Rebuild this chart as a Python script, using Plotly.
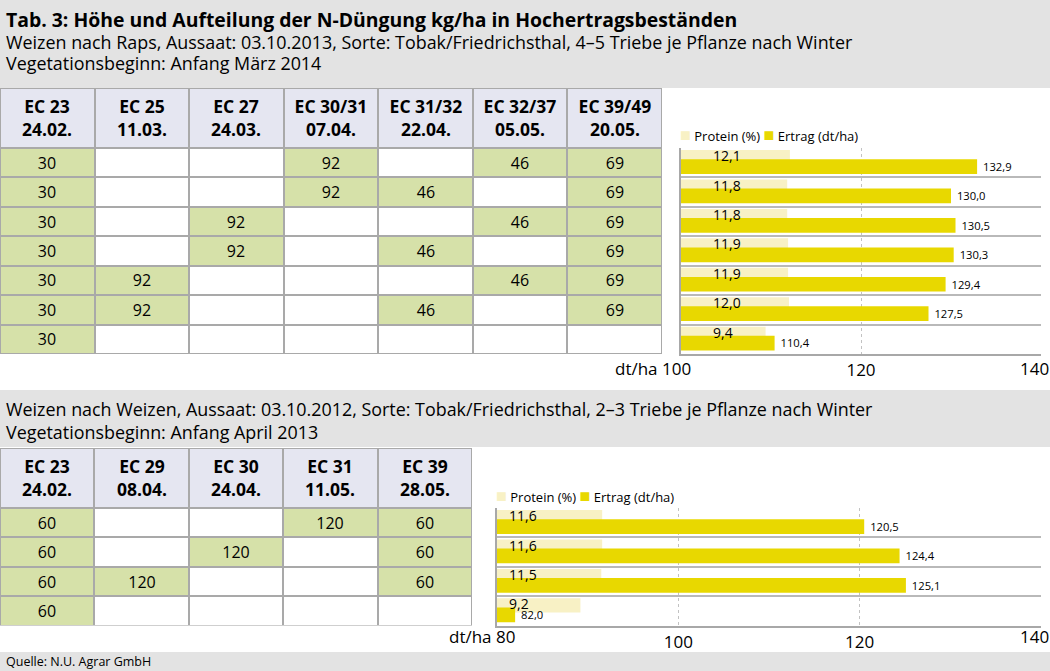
import plotly.graph_objects as go

W, H = 1050, 671

# ---------------- texts ----------------
title = "Tab. 3: Höhe und Aufteilung der N-Düngung kg/ha in Hochertragsbeständen"
top_sub1 = "Weizen nach Raps, Aussaat: 03.10.2013, Sorte: Tobak/Friedrichsthal, 4–5 Triebe je Pflanze nach Winter"
top_sub2 = "Vegetationsbeginn: Anfang März 2014"
bot_sub1 = "Weizen nach Weizen, Aussaat: 03.10.2012, Sorte: Tobak/Friedrichsthal, 2–3 Triebe je Pflanze nach Winter"
bot_sub2 = "Vegetationsbeginn: Anfang April 2013"
source = "Quelle: N.U. Agrar GmbH"
legend_names = ["Protein (%)", "Ertrag (dt/ha)"]
unit_label = "dt/ha"

# ---------------- data: top (Weizen nach Raps) ----------------
top_stages = ["EC 23", "EC 25", "EC 27", "EC 30/31", "EC 31/32", "EC 32/37", "EC 39/49"]
top_dates = ["24.02.", "11.03.", "24.03.", "07.04.", "22.04.", "05.05.", "20.05."]
top_doses = [
    [30, None, None, 92, None, 46, 69],
    [30, None, None, 92, 46, None, 69],
    [30, None, 92, None, None, 46, 69],
    [30, None, 92, None, 46, None, 69],
    [30, 92, None, None, None, 46, 69],
    [30, 92, None, None, 46, None, 69],
    [30, None, None, None, None, None, None],
]
top_protein = [12.1, 11.8, 11.8, 11.9, 11.9, 12.0, 9.4]
top_yield = [132.9, 130.0, 130.5, 130.3, 129.4, 127.5, 110.4]
top_ticks = [100, 120, 140]

# ---------------- data: bottom (Weizen nach Weizen) ----------------
bot_stages = ["EC 23", "EC 29", "EC 30", "EC 31", "EC 39"]
bot_dates = ["24.02.", "08.04.", "24.04.", "11.05.", "28.05."]
bot_doses = [
    [60, None, None, 120, 60],
    [60, None, 120, None, 60],
    [60, 120, None, None, 60],
    [60, None, None, None, None],
]
bot_protein = [11.6, 11.6, 11.5, 9.2]
bot_yield = [120.5, 124.4, 125.1, 82.0]
bot_ticks = [80, 100, 120, 140]

# ---------------- style ----------------
FONT = "Open Sans"
BAND = "#e3e3e3"
HEAD = "#e5e6f1"
GREEN = "#d6e1a9"
GRIDLINE = "#a9a9a9"
PROT = "#f8f1c5"
YIELD = "#e8d800"
HEADER_H = 60.0
ROW_H = 29.43
NBSP = "\u00a0"


def px_x(x):
    return x / W


def px_y(y):
    return 1 - y / H


fig = go.Figure()
annotations = []
shapes = []

# background white sections
for y0, y1 in [(88, 390), (447, 652)]:
    shapes.append(dict(type="rect", xref="paper", yref="paper", x0=0, x1=1,
                       y0=px_y(y1), y1=px_y(y0), fillcolor="white",
                       line=dict(width=0), layer="below"))


def add_table(stages, dates, doses, ax_id, x_right, y_top):
    n_rows, n_cols = len(doses), len(stages)
    total = HEADER_H + n_rows * ROW_H
    xa = "x" + ax_id
    ya = "y" + ax_id
    cols = list(range(n_cols))
    header_text = [["<b>%s</b><br><b>%s</b>" % (s, d) for s, d in zip(stages, dates)]]
    fig.add_trace(go.Heatmap(
        z=[[0] * n_cols], x=cols, y=[0, HEADER_H], text=header_text,
        texttemplate="%{text}", zmin=0, zmax=1,
        colorscale=[[0, HEAD], [1, HEAD]], showscale=False,
        xgap=2, ygap=2, textfont=dict(size=17.5, color="black", family=FONT),
        hoverinfo="skip", xaxis=xa, yaxis=ya))
    edges = [HEADER_H + i * ROW_H for i in range(n_rows + 1)]
    z = [[1 if v is not None else 0 for v in row] for row in doses]
    txt = [["" if v is None else str(v) for v in row] for row in doses]
    fig.add_trace(go.Heatmap(
        z=z, x=cols, y=edges, text=txt, texttemplate="%{text}",
        zmin=0, zmax=1, colorscale=[[0, "white"], [1, GREEN]], showscale=False,
        xgap=2, ygap=2, textfont=dict(size=16, color="black", family=FONT),
        hoverinfo="skip", xaxis=xa, yaxis=ya))
    shapes.append(dict(type="rect", xref=xa, yref=ya, x0=-0.5, x1=n_cols - 0.5,
                       y0=0, y1=total, fillcolor=GRIDLINE, line=dict(width=0),
                       layer="below"))
    fig.layout["xaxis" + ax_id] = dict(domain=[0, px_x(x_right)], range=[-0.5, n_cols - 0.5],
                                       visible=False, anchor=ya, fixedrange=True)
    fig.layout["yaxis" + ax_id] = dict(domain=[px_y(y_top + total), px_y(y_top)],
                                       range=[total, 0], visible=False, anchor=xa,
                                       fixedrange=True)


def add_bars(protein, yields, ticks, ax_id, x0, x1, y_top, label_shift, unit_shift,
             legend_y, unit_gap):
    n = len(protein)
    xa = "x" + ax_id
    ya = "y" + ax_id
    rows = list(range(n))
    xmin, xmax = ticks[0], ticks[-1]
    fig.add_trace(go.Bar(
        orientation="h", y=rows, x=protein, base=xmin, offset=-0.43, width=0.48,
        marker=dict(color=PROT, line=dict(width=0)), hoverinfo="skip",
        xaxis=xa, yaxis=ya))
    fig.add_trace(go.Bar(
        orientation="h", y=rows, x=yields, offset=-0.12, width=0.5,
        marker=dict(color=YIELD, line=dict(width=0)),
        texttemplate=NBSP + "%{x:.1f}",
        textposition="outside", textfont=dict(size=14.5, color="black", family=FONT),
        cliponaxis=False, hoverinfo="skip", xaxis=xa, yaxis=ya))
    for i, v in enumerate(protein):
        annotations.append(dict(
            x=xmin, y=i - 0.24, xref=xa, yref=ya, xanchor="left", yanchor="middle",
            xshift=label_shift, text=("%.1f" % v).replace(".", ","), showarrow=False,
            font=dict(size=14, color="black", family=FONT)))
    y_bottom = y_top + n * ROW_H
    # first and last tick labels are drawn as annotations (unit label / edge fit)
    labels = [""] + [str(t) for t in ticks[1:-1]] + [""]
    fig.layout["xaxis" + ax_id] = dict(
        domain=[px_x(x0), px_x(x1)], range=[xmin, xmax], tickvals=ticks,
        ticktext=labels, showgrid=True,
        gridcolor="#c2c2c2", griddash="dot", gridwidth=1, showline=True,
        linecolor="#a8a8a8", linewidth=2, ticks="", zeroline=False,
        tickfont=dict(size=17, color="black", family=FONT), anchor=ya,
        fixedrange=True)
    fig.layout["yaxis" + ax_id] = dict(
        domain=[px_y(y_bottom), px_y(y_top)], range=[n - 0.5, -0.5],
        tickvals=[i + 0.5 for i in range(n - 1)], showgrid=True,
        gridcolor="#b9b9b9", gridwidth=2, showticklabels=False, ticks="",
        zeroline=False, showline=True, linecolor="#a8a8a8", linewidth=1.5,
        anchor=xa, fixedrange=True)
    annotations.append(dict(
        x=xmin, y=px_y(y_bottom + unit_gap), xref=xa, yref="paper", xanchor="right",
        yanchor="middle", xshift=unit_shift, text="%s %d" % (unit_label, xmin),
        showarrow=False, font=dict(size=17, color="black", family=FONT)))
    annotations.append(dict(
        x=xmax, y=px_y(y_bottom + unit_gap), xref=xa, yref="paper", xanchor="right",
        yanchor="middle", xshift=10, text=str(xmax),
        showarrow=False, font=dict(size=17, color="black", family=FONT)))
    sw = "<span style='color:%s;font-size:18px'>■</span>"
    annotations.append(dict(
        x=px_x(x0), y=px_y(legend_y), xref="paper", yref="paper", xanchor="left",
        yanchor="middle", xshift=-3,
        text=(sw % PROT) + " " + legend_names[0] + " " + (sw % YIELD) + " " + legend_names[1],
        showarrow=False, font=dict(size=13, color="black", family=FONT)))


add_table(top_stages, top_dates, top_doses, "", 662, 88)
add_bars(top_protein, top_yield, top_ticks, "2", 681, 1041, 148, 30, 12, 134, 14)
add_table(bot_stages, bot_dates, bot_doses, "3", 472, 448)
add_bars(bot_protein, bot_yield, bot_ticks, "4", 497, 1041, 508, 10, 20, 495, 11)

# header texts
for text, y, size, bold in [
    (title, 20, 19.4, True),
    (top_sub1, 42, 17.9, False),
    (top_sub2, 63, 17.9, False),
    (bot_sub1, 409, 17.9, False),
    (bot_sub2, 432, 17.9, False),
    (source, 661, 12.5, False),
]:
    annotations.append(dict(
        x=px_x(4), y=px_y(y), xref="paper", yref="paper", xanchor="left",
        yanchor="middle", text=("<b>%s</b>" % text) if bold else text,
        showarrow=False, font=dict(size=size, color="black", family=FONT)))

fig.update_layout(
    width=W, height=H, margin=dict(l=0, r=0, t=0, b=0),
    paper_bgcolor=BAND, plot_bgcolor="rgba(0,0,0,0)",
    barmode="overlay", showlegend=False, separators=",.",
    font=dict(family=FONT, color="black"),
    annotations=annotations, shapes=shapes,
)

fig.write_html("out.html", config={"displayModeBar": False},
               post_script="document.body.style.margin='0px';document.body.style.overflow='hidden';")
